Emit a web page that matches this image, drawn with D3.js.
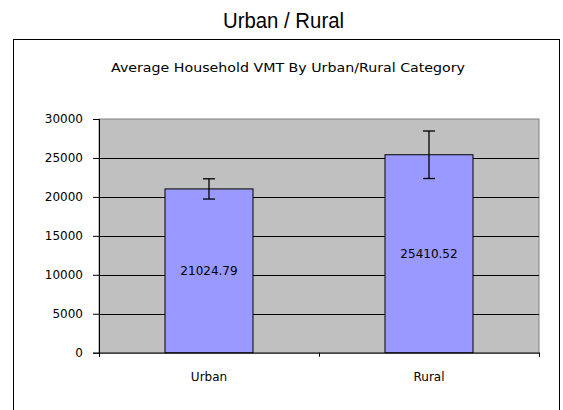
<!DOCTYPE html>
<html><head><meta charset="utf-8">
<script src="https://cdn.jsdelivr.net/npm/d3@7"></script>
<style>body{margin:0;background:#fff;}svg{display:block;}</style>
</head><body>
<svg id="c" width="563" height="410"></svg>
<script>
const categories = ["Urban", "Rural"];
const values = [21024.79, 25410.52];
const errors = [1300, 3050];
const yTicks = [0, 5000, 10000, 15000, 20000, 25000, 30000];
const pageTitle = "Urban / Rural";
const chartTitle = "Average Household VMT By Urban/Rural Category";

const svg = d3.select("#c");
const L = 99, R = 539, T = 119, B = 352.7;
const F = "'DejaVu Sans', Verdana, sans-serif";

svg.append("text").attr("x", 283.5).attr("y", 28).attr("text-anchor", "middle")
  .style("font-family", "'Liberation Sans', Arial, sans-serif")
  .attr("textLength", 121).attr("lengthAdjust", "spacingAndGlyphs")
  .style("font-size", "22px").attr("fill", "#000").text(pageTitle);

svg.append("rect").attr("x", 13.5).attr("y", 39.5).attr("width", 546).attr("height", 400)
  .attr("fill", "#fff").attr("stroke", "#000").attr("stroke-width", 1);

svg.append("text").attr("x", 288).attr("y", 72).attr("text-anchor", "middle")
  .style("font-family", F).attr("textLength", 354).attr("lengthAdjust", "spacingAndGlyphs")
  .style("font-size", "13px").attr("fill", "#000").text(chartTitle);

const x = d3.scaleBand().domain(categories).range([L, R]).paddingInner(0.6).paddingOuter(0.3);
const y = d3.scaleLinear().domain([0, 30000]).range([B, T]);

svg.append("rect").attr("x", L).attr("y", T).attr("width", R - L).attr("height", B - T)
  .attr("fill", "#c0c0c0").attr("stroke", "#808080").attr("stroke-width", 1);

svg.append("g").selectAll("line").data(yTicks.filter(d => d > 0 && d < 30000)).join("line")
  .attr("x1", L).attr("x2", R).attr("y1", d => Math.round(y(d)) + 0.5).attr("y2", d => Math.round(y(d)) + 0.5)
  .attr("stroke", "#000").attr("stroke-width", 1);

const ya = svg.append("g").attr("transform", `translate(${L},0)`)
  .call(d3.axisLeft(y).tickValues(yTicks).tickSize(6).tickPadding(10).tickFormat(d3.format("d")));
ya.select(".domain").attr("stroke", "#000");
ya.selectAll(".tick text").style("font-family", F)
  .style("font-size", "12px").attr("fill", "#000");

const xTickScale = d3.scaleLinear().domain([0, categories.length]).range([L, R]);
const xa = svg.append("g").attr("transform", `translate(0,${B})`)
  .call(d3.axisBottom(xTickScale).ticks(categories.length).tickSize(4).tickFormat(""));
xa.select(".domain").attr("stroke", "#000");

svg.append("g").selectAll("text").data(categories).join("text")
  .attr("x", d => x(d) + x.bandwidth() / 2).attr("y", 381).attr("text-anchor", "middle")
  .style("font-family", F).style("font-size", "12px").text(d => d);

const bars = svg.append("g");
bars.selectAll("rect").data(values).join("rect")
  .attr("x", (d, i) => x(categories[i])).attr("y", d => y(d))
  .attr("width", x.bandwidth()).attr("height", d => B - y(d))
  .attr("fill", "#9999ff").attr("stroke", "#000").attr("stroke-width", 1);

bars.selectAll("text").data(values).join("text")
  .attr("x", (d, i) => x(categories[i]) + x.bandwidth() / 2)
  .attr("y", d => (y(d) + B) / 2 + 4).attr("text-anchor", "middle")
  .style("font-family", F).style("font-size", "12px")
  .text(d => d.toFixed(2));

const eb = svg.append("g").attr("stroke", "#000").attr("stroke-width", 1.3);
values.forEach((v, i) => {
  const cx = x(categories[i]) + x.bandwidth() / 2;
  eb.append("line").attr("x1", cx).attr("x2", cx).attr("y1", y(v + errors[i])).attr("y2", y(v - errors[i]));
  [v + errors[i], v - errors[i]].forEach(e => {
    eb.append("line").attr("x1", cx - 6).attr("x2", cx + 6).attr("y1", y(e)).attr("y2", y(e));
  });
});
</script>
</body></html>
